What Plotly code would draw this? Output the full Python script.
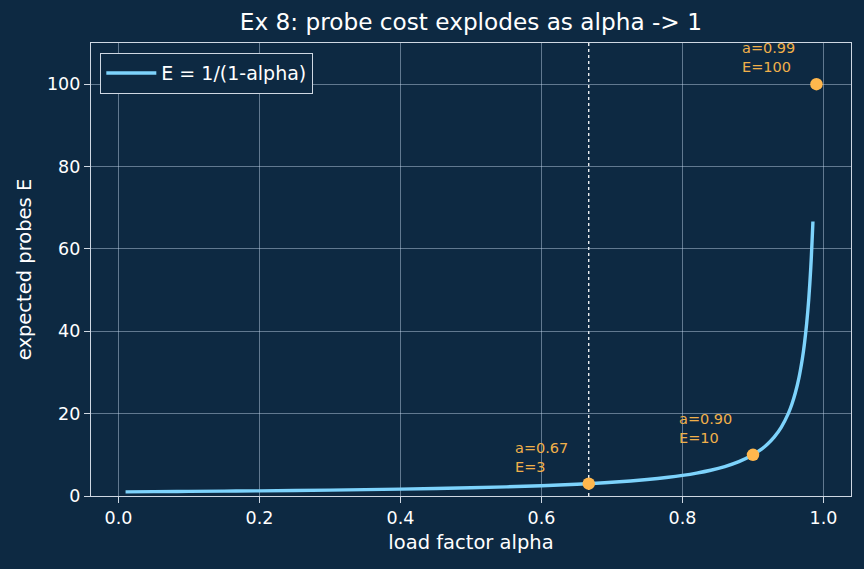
import plotly.graph_objects as go

# curve samples (E = 1/(1-alpha))
alpha = [0.01, 0.05, 0.10, 0.15, 0.20, 0.25, 0.30, 0.35, 0.40, 0.45, 0.50, 0.55,
         0.60, 0.65, 0.70, 0.75, 0.78, 0.80, 0.82, 0.84, 0.86, 0.88, 0.90, 0.91,
         0.92, 0.93, 0.94, 0.95, 0.955, 0.96, 0.965, 0.97, 0.973, 0.976, 0.979,
         0.982, 0.985]
E = [1.0101, 1.0526, 1.1111, 1.1765, 1.25, 1.3333, 1.4286, 1.5385, 1.6667, 1.8182,
     2.0, 2.2222, 2.5, 2.8571, 3.3333, 4.0, 4.5455, 5.0, 5.5556, 6.25, 7.1429,
     8.3333, 10.0, 11.1111, 12.5, 14.2857, 16.6667, 20.0, 22.2222, 25.0, 28.5714,
     33.3333, 37.037, 41.6667, 47.619, 55.5556, 66.6667]

mark_alpha = [0.667, 0.90, 0.99]
mark_E = [3.0, 10.0, 100.0]
mark_text = ["a=0.67<br>E=3", "a=0.90<br>E=10", "a=0.99<br>E=100"]
vline_alpha = 0.667

BG = "#0d2942"
FONT = "DejaVu Sans"

fig = go.Figure()
fig.add_trace(go.Scatter(x=alpha, y=E, mode="lines", name="E = 1/(1-alpha)",
                         line=dict(color="#7dd3fc", width=3.4, shape="spline")))
fig.add_trace(go.Scatter(x=mark_alpha, y=mark_E, mode="markers", showlegend=False,
                         marker=dict(color="#ffb74d", size=12.5)))

fig.add_shape(type="line", x0=vline_alpha, x1=vline_alpha, y0=0, y1=1, yref="paper",
              line=dict(color="white", width=1.3, dash="dot"), layer="below")

for a, e, t in zip(mark_alpha, mark_E, mark_text):
    fig.add_annotation(x=a, y=e, text=t, showarrow=False, xanchor="left", yanchor="bottom",
                       align="left", xshift=-76, yshift=7,
                       font=dict(family=FONT, size=14.5, color="#f0b04a"))

axis_common = dict(showgrid=True, gridcolor="rgba(200,220,240,0.45)", gridwidth=0.7,
                   zeroline=False, showline=True, linecolor="#cfd8e3", linewidth=1.2,
                   mirror=True, ticks="outside", tickcolor="#cfd8e3", ticklen=6,
                   tickfont=dict(family=FONT, size=17.5, color="white"))

fig.update_xaxes(range=[-0.039, 1.039], tickvals=[0, 0.2, 0.4, 0.6, 0.8, 1.0],
                 ticktext=["0.0", "0.2", "0.4", "0.6", "0.8", "1.0"],
                 title=dict(text="load factor alpha", standoff=8,
                            font=dict(family=FONT, size=19.5, color="white")),
                 **axis_common)
fig.update_yaxes(range=[0, 110], tickvals=[0, 20, 40, 60, 80, 100],
                 title=dict(text="expected probes E", standoff=10,
                            font=dict(family=FONT, size=19.5, color="white")),
                 **axis_common)

fig.update_layout(
    width=864, height=569, paper_bgcolor=BG, plot_bgcolor=BG,
    margin=dict(l=91, r=13, t=43, b=73),
    title=dict(text="Ex 8: probe cost explodes as alpha -> 1", x=0.545, xanchor="center",
               y=0.962, yanchor="middle", font=dict(family=FONT, size=23.2, color="white")),
    legend=dict(x=0.012, y=0.978, xanchor="left", yanchor="top", bgcolor=BG,
                bordercolor="#cfd8e3", borderwidth=1.2, itemwidth=50,
                font=dict(family=FONT, size=19, color="white")),
    font=dict(family=FONT, color="white"),
)

fig.write_html("out.html")
